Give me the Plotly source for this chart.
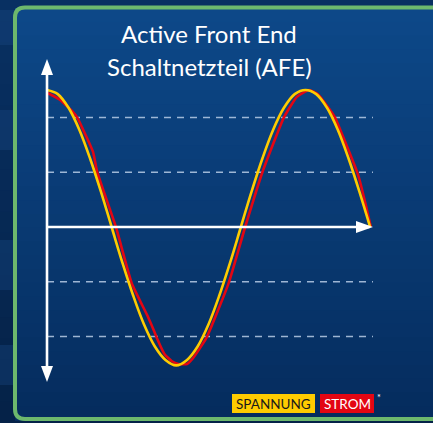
import plotly.graph_objects as go

# ---- data: phase angle in degrees, normalised amplitude ----
spannung_phase = [0, 15, 30, 45, 60, 75, 90, 105, 120, 135, 150, 165, 180, 195, 210,
                  225, 240, 255, 270, 285, 300, 315, 330, 345, 360, 375, 390, 405,
                  420, 435, 450]
spannung = [1.00, 0.97, 0.87, 0.71, 0.50, 0.26, 0.00, -0.26, -0.50, -0.71, -0.87,
            -0.97, -1.01, -0.97, -0.87, -0.71, -0.50, -0.26, 0.00, 0.26, 0.50,
            0.71, 0.87, 0.97, 1.00, 0.97, 0.87, 0.71, 0.50, 0.26, 0.00]

strom_phase = [0, 18, 36, 42, 64, 70, 96, 118, 141, 150, 153, 164, 174, 183, 195,
               203, 222, 253, 276, 300, 330, 348, 365, 377, 392, 401, 432, 438,
               444, 451]
strom = [0.98, 0.93, 0.84, 0.80, 0.55, 0.40, 0.00, -0.41, -0.66, -0.77, -0.81,
         -0.93, -0.98, -1.00, -1.00, -0.96, -0.81, -0.41, 0.00, 0.40, 0.80, 0.95,
         1.00, 0.97, 0.87, 0.80, 0.40, 0.29, 0.16, 0.00]

grid_levels = [0.8, 0.4, -0.4, -0.8]

title_lines = ["Active Front End", "Schaltnetzteil (AFE)"]
legend_labels = ["SPANNUNG", "STROM"]

# ---- geometry ----
W, H = 433, 423
X0_PX, PX_PER_DEG = 47, 0.718
Y0_PX, PX_PER_UNIT = 227, 137

x_range = [(0 - X0_PX) / PX_PER_DEG, (W - X0_PX) / PX_PER_DEG]
y_range = [(Y0_PX - H) / PX_PER_UNIT, (Y0_PX - 0) / PX_PER_UNIT]

Y_TOP = (Y0_PX - 59) / PX_PER_UNIT
Y_BOT = (Y0_PX - 382) / PX_PER_UNIT
X_END = (373 - X0_PX) / PX_PER_DEG


def pxx(x):
    return x / W


def pxy(y):
    return 1 - y / H


YELLOW = "#FFCC00"
RED = "#E30613"
WHITE = "#FFFFFF"

fig = go.Figure()

fig.add_trace(go.Scatter(x=strom_phase, y=strom, mode="lines",
                         line=dict(color=RED, width=2.6, shape="spline", smoothing=0.4),
                         hoverinfo="skip", showlegend=False))
fig.add_trace(go.Scatter(x=spannung_phase, y=spannung, mode="lines",
                         line=dict(color=YELLOW, width=2.6, shape="spline"),
                         hoverinfo="skip", showlegend=False))

shapes = []


def lerp(a, b, t):
    return tuple(round(a[i] + (b[i] - a[i]) * t) for i in range(3))


# outer strip: soft vertical gradient
out_top, out_bot = (8, 48, 98), (5, 34, 72)
n_out = 20
for i in range(n_out):
    c = lerp(out_top, out_bot, i / (n_out - 1))
    ya = H * i / n_out
    yb = H * (i + 1) / n_out + 1
    shapes.append(dict(type="rect", xref="paper", yref="paper",
                       x0=0, x1=1, y0=pxy(yb), y1=pxy(ya),
                       fillcolor="rgb(%d,%d,%d)" % c, line=dict(width=0), layer="below"))

# faint streaks on the outer strip
for (ya, yb) in [(10, 45), (110, 150), (240, 290), (345, 385)]:
    shapes.append(dict(type="rect", xref="paper", yref="paper",
                       x0=0, x1=pxx(14), y0=pxy(yb), y1=pxy(ya),
                       fillcolor="rgba(25,75,135,0.35)", line=dict(width=0), layer="below"))

# gradient panel inside the frame
top_c, bot_c = (13, 72, 136), (5, 44, 94)
n_bands = 30
y_a, y_b = 8, 420
for i in range(n_bands):
    t = i / (n_bands - 1)
    c = lerp(top_c, bot_c, t)
    ya = y_a + (y_b - y_a) * i / n_bands
    yb = y_a + (y_b - y_a) * (i + 1) / n_bands + 1
    shapes.append(dict(type="rect", xref="paper", yref="paper",
                       x0=pxx(15), x1=1, y0=pxy(yb), y1=pxy(ya),
                       fillcolor="rgb(%d,%d,%d)" % c, line=dict(width=0), layer="below"))

# green rounded frame
r = 10
L, T, R, B = 15, 7.5, 445, 419


def p(x, y):
    return "%.5f,%.5f" % (pxx(x), pxy(y))


frame_path = ("M " + p(L, T + r) + " Q " + p(L, T) + " " + p(L + r, T) +
              " L " + p(R, T) + " L " + p(R, B) + " L " + p(L + r, B) +
              " Q " + p(L, B) + " " + p(L, B - r) + " Z")
shapes.append(dict(type="path", xref="paper", yref="paper", path=frame_path,
                   line=dict(color="#6DB86D", width=4), fillcolor="rgba(0,0,0,0)"))

# dashed reference levels
for lv in grid_levels:
    shapes.append(dict(type="line", xref="x", yref="y", x0=0, x1=X_END, y0=lv, y1=lv,
                       line=dict(color="rgba(185,205,230,0.85)", width=1.5, dash="7px,6px"),
                       layer="below"))

# axes with arrowheads
shapes.append(dict(type="line", xref="x", yref="y", x0=0, x1=0, y0=Y_BOT + 0.05, y1=Y_TOP - 0.05,
                   line=dict(color=WHITE, width=2.6)))
shapes.append(dict(type="line", xref="x", yref="y", x0=0, x1=X_END - 5, y0=0, y1=0,
                   line=dict(color=WHITE, width=2.6)))
arrow_common = dict(type="path", xref="x", yref="y", xsizemode="pixel", ysizemode="pixel",
                    fillcolor=WHITE, line=dict(width=0))
shapes.append(dict(arrow_common, xanchor=0, yanchor=Y_TOP, path="M -6,-16 L 6,-16 L 0,0 Z"))
shapes.append(dict(arrow_common, xanchor=0, yanchor=Y_BOT, path="M -6,16 L 6,16 L 0,0 Z"))
shapes.append(dict(arrow_common, xanchor=X_END, yanchor=0, path="M -17,-6 L -17,6 L 0,0 Z"))

# legend boxes
box_y0, box_y1 = 394, 413
boxes = [(232, 315, YELLOW, "#1A1A1A"), (320, 374, RED, WHITE)]
annotations = []
for (bx0, bx1, fill, tc), label in zip(boxes, legend_labels):
    shapes.append(dict(type="rect", xref="paper", yref="paper",
                       x0=pxx(bx0), x1=pxx(bx1), y0=pxy(box_y1), y1=pxy(box_y0),
                       fillcolor=fill, line=dict(width=0)))
    annotations.append(dict(xref="paper", yref="paper", x=pxx((bx0 + bx1) / 2),
                            y=pxy((box_y0 + box_y1) / 2 + 0.5), text=label, showarrow=False,
                            xanchor="center", yanchor="middle",
                            font=dict(family="Lato", size=13.5, color=tc)))
annotations.append(dict(xref="paper", yref="paper", x=pxx(379), y=pxy(397), text="*",
                        showarrow=False, xanchor="center", yanchor="middle",
                        font=dict(family="Lato", size=9, color=WHITE)))

# title
for line_text, cy in zip(title_lines, [33, 66]):
    annotations.append(dict(xref="paper", yref="paper", x=pxx(209), y=pxy(cy),
                            text=line_text, showarrow=False, xanchor="center",
                            yanchor="middle",
                            font=dict(family="Lato", size=24, color=WHITE)))

fig.update_layout(
    width=W, height=H,
    margin=dict(l=0, r=0, t=0, b=0),
    paper_bgcolor="#072A55", plot_bgcolor="rgba(0,0,0,0)",
    xaxis=dict(range=x_range, visible=False, fixedrange=True),
    yaxis=dict(range=y_range, visible=False, fixedrange=True),
    shapes=shapes, annotations=annotations,
    showlegend=False,
)

fig.write_html("out.html", config={"displayModeBar": False})
